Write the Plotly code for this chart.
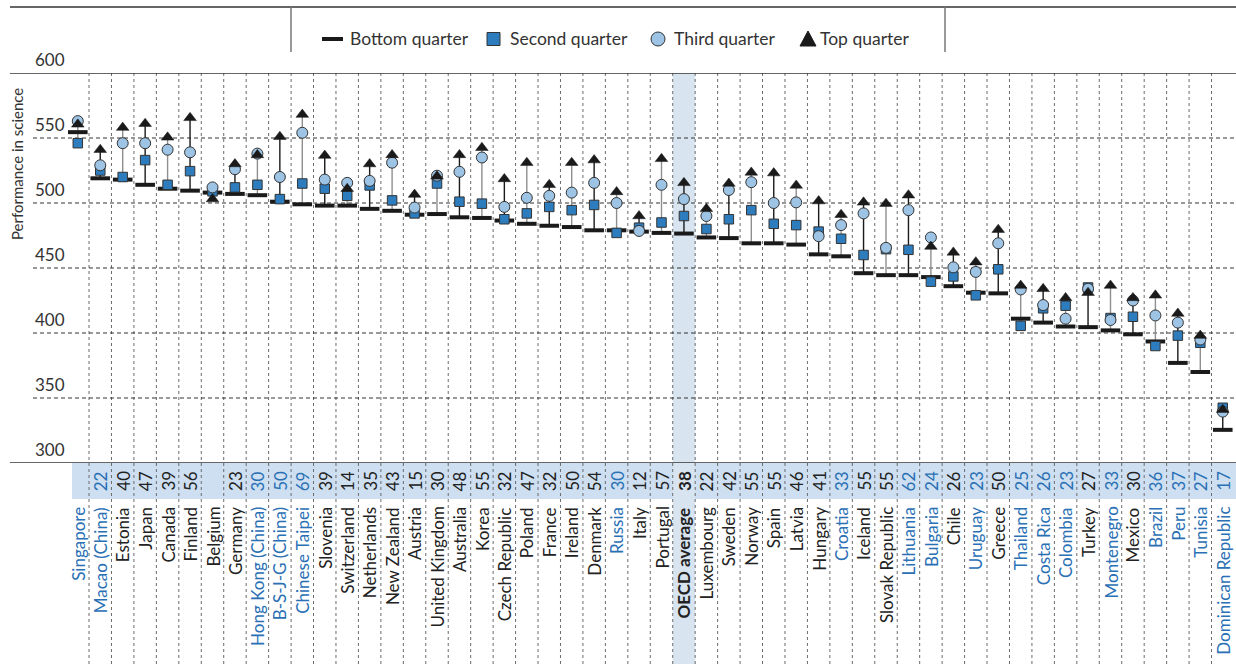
import plotly.graph_objects as go

# ---------------- data ----------------
countries = ["Singapore", "Macao (China)", "Estonia", "Japan", "Canada", "Finland", "Belgium",
             "Germany", "Hong Kong (China)", "B-S-J-G (China)", "Chinese Taipei", "Slovenia",
             "Switzerland", "Netherlands", "New Zealand", "Austria", "United Kingdom", "Australia",
             "Korea", "Czech Republic", "Poland", "France", "Ireland", "Denmark", "Russia", "Italy",
             "Portugal", "OECD average", "Luxembourg", "Sweden", "Norway", "Spain", "Latvia",
             "Hungary", "Croatia", "Iceland", "Slovak Republic", "Lithuania", "Bulgaria", "Chile",
             "Uruguay", "Greece", "Thailand", "Costa Rica", "Colombia", "Turkey", "Montenegro",
             "Mexico", "Brazil", "Peru", "Tunisia", "Dominican Republic"]

bottom_q = [554.5, 519, 518, 514, 511, 509.5, 508, 507, 506, 501, 499, 498, 498, 495.5, 494, 491,
            491.5, 489, 488.5, 486.5, 484, 482.5, 481.5, 479, 479, 478, 477, 476.5, 473.5, 473, 469,
            469, 468, 460.5, 459, 446, 444.5, 444.5, 443, 436, 431, 430.5, 411, 408, 405, 404.5,
            402, 399, 393.5, 377, 370, 325.5]
second_q = [546, 525, 520, 533, 514, 524.5, 509, 512, 514, 503, 515, 511, 505.5, 513.5, 502, 492,
            515, 501, 499.5, 487.5, 492, 497, 494.5, 498.5, 477, 481, 485, 490, 480, 487.5, 494.5,
            484, 483, 478, 472.5, 460, 464.5, 464, 439.5, 443.5, 429, 449, 405.5, 419, 421, 435,
            411.5, 412.5, 390, 398, 392.5, 342.5]
third_q = [563, 529, 546, 546, 541, 539, 512, 526, 538, 520, 554, 518, 515.5, 517, 531, 496.5,
           521, 524, 535, 497, 504, 505.5, 508, 515.5, 500, 478.5, 514, 503, 490, 510, 516, 500,
           500.5, 474.5, 483, 492, 465.5, 494.5, 473.5, 450.5, 447, 469, 433.5, 421.5, 411, 434,
           410, 425, 413.5, 408, 395, 339.5]
top_q = [560.5, 541, 558, 561, 550.5, 565.5, 503, 530, 537, 551, 568, 536.5, 511, 530, 537, 506.5,
         520.5, 537, 542.5, 518.5, 531, 514, 531, 533, 508.5, 490, 534, 515.5, 495.5, 515, 523.5,
         523, 513.5, 501.5, 491, 500.5, 499.5, 506, 466.5, 462, 454.5, 479.5, 436.5, 434, 427,
         431, 436.5, 427, 429, 415, 398, 341]
gap_labels = ["", "22", "40", "47", "39", "56", "", "23", "30", "50", "69", "39", "14", "35", "43",
              "15", "30", "48", "55", "32", "47", "32", "50", "54", "30", "12", "57", "38", "22",
              "42", "55", "55", "46", "41", "33", "55", "55", "62", "24", "26", "23", "50", "25",
              "26", "23", "27", "33", "30", "36", "37", "27", "17"]
partner = [1, 1, 0, 0, 0, 0, 0, 0, 1, 1, 1, 0, 0, 0, 0, 0, 0, 0, 0, 0, 0, 0, 0, 0, 1, 0, 0, 0, 0,
           0, 0, 0, 0, 0, 1, 0, 0, 1, 1, 0, 1, 0, 1, 1, 1, 0, 1, 0, 1, 1, 1, 1]
y_ticks = [300, 350, 400, 450, 500, 550, 600]
y_title = "Performance in science"
legend_names = ["Bottom quarter", "Second quarter", "Third quarter", "Top quarter"]
highlight = "OECD average"

# ---------------- style ----------------
W, H = 1236, 664
FONT = "Lato, 'Open Sans', sans-serif"
BLUE_TXT = "#2a70b5"
SQ_FILL = "#2d7cbd"
CI_FILL = "#9dc4e5"
DARK = "#1a1a1a"
GREY_LINE = "#8f8f8f"


def px(x):
    return x / W


def py(y):
    return 1 - y / H


xs = list(range(len(countries)))
hi = countries.index(highlight)

fig = go.Figure()

# range lines
for color, parity in [(GREY_LINE, 0), (DARK, 1)]:
    lx, ly = [], []
    for i in xs:
        if i % 2 == parity:
            vals = [bottom_q[i], second_q[i], third_q[i], top_q[i]]
            lx += [i, i, None]
            ly += [min(vals), max(vals), None]
    fig.add_trace(go.Scatter(x=lx, y=ly, mode="lines", line=dict(color=color, width=1.4),
                             hoverinfo="skip", showlegend=False))

fig.add_trace(go.Scatter(x=xs, y=bottom_q, mode="markers", name=legend_names[0], showlegend=False,
                         marker=dict(symbol="line-ew", size=14, line=dict(color=DARK, width=4))))
fig.add_trace(go.Scatter(x=xs, y=second_q, mode="markers", name=legend_names[1], showlegend=False,
                         marker=dict(symbol="square", size=9.5, color=SQ_FILL,
                                     line=dict(color="#333333", width=1))))
fig.add_trace(go.Scatter(x=xs, y=third_q, mode="markers", name=legend_names[2], showlegend=False,
                         marker=dict(symbol="circle", size=11, color=CI_FILL,
                                     line=dict(color="#333333", width=1))))
fig.add_trace(go.Scatter(x=xs, y=top_q, mode="markers", name=legend_names[3], showlegend=False,
                         marker=dict(symbol="triangle-up", size=11, color=DARK,
                                     line=dict(color=DARK, width=0.5))))

shapes = []
annotations = []

# OECD average highlight column and blue band
shapes.append(dict(type="rect", xref="paper", yref="paper", x0=px(72), x1=1,
                   y0=py(499), y1=py(463), fillcolor="#cddff0", line=dict(width=0), layer="below"))
shapes.append(dict(type="rect", xref="x", yref="paper", x0=hi - 0.5, x1=hi + 0.5,
                   y0=0, y1=py(73), fillcolor="#d8e5f1", line=dict(width=0), layer="below"))

# vertical dashed separators
for i in xs[:-1]:
    shapes.append(dict(type="line", xref="x", yref="paper", x0=i + 0.5, x1=i + 0.5,
                       y0=0, y1=py(73), line=dict(color="#6b6b6b", width=1, dash="3px,3px"),
                       layer="below"))

# horizontal gridlines and tick labels
for t in y_ticks:
    if t in (300, 600):
        shapes.append(dict(type="line", xref="paper", yref="y", x0=px(10), x1=1, y0=t, y1=t,
                           line=dict(color="#333333", width=1.5), layer="below"))
    else:
        shapes.append(dict(type="line", xref="paper", yref="y", x0=px(33), x1=1, y0=t, y1=t,
                           line=dict(color="#333333", width=1, dash="4px,3px"), layer="below"))
    annotations.append(dict(xref="paper", yref="y", x=px(33), y=t, xanchor="left",
                            yanchor="bottom", yshift=1, text=str(t), showarrow=False,
                            font=dict(family=FONT, size=17, color="#333333")))

# y-axis title
annotations.append(dict(xref="paper", yref="paper", x=px(17), y=py(164), text=y_title,
                        textangle=-90, showarrow=False, xanchor="center", yanchor="middle",
                        font=dict(family=FONT, size=15, color="#333333")))

# category labels and gap numbers
for i, name in enumerate(countries):
    col = BLUE_TXT if partner[i] else "#222222"
    txt = f"<b>{name}</b>" if name == highlight else name
    annotations.append(dict(xref="x", yref="paper", x=i, y=py(505), text=txt, textangle=-90,
                            showarrow=False, xanchor="center", yanchor="top",
                            font=dict(family=FONT, size=17, color=col)))
    if gap_labels[i]:
        g = f"<b>{gap_labels[i]}</b>" if name == highlight else gap_labels[i]
        annotations.append(dict(xref="x", yref="paper", x=i, y=py(481), text=g, textangle=-90,
                                showarrow=False, xanchor="center", yanchor="middle",
                                font=dict(family=FONT, size=17, color=col)))

# top rule and legend box
shapes.append(dict(type="line", xref="paper", yref="paper", x0=px(10), x1=1, y0=py(7), y1=py(7),
                   line=dict(color="#333333", width=1.5)))
for xv in (291, 945):
    shapes.append(dict(type="line", xref="paper", yref="paper", x0=px(xv), x1=px(xv),
                       y0=py(7), y1=py(52), line=dict(color="#777777", width=1.5)))

LY = 39
# legend symbols
shapes.append(dict(type="line", xref="paper", yref="paper", x0=px(322), x1=px(343),
                   y0=py(LY), y1=py(LY), line=dict(color=DARK, width=4)))
shapes.append(dict(type="rect", xref="paper", yref="paper", x0=px(487), x1=px(500),
                   y0=py(LY + 6.5), y1=py(LY - 6.5), fillcolor=SQ_FILL,
                   line=dict(color="#333333", width=1)))
shapes.append(dict(type="circle", xref="paper", yref="paper", x0=px(651), x1=px(665),
                   y0=py(LY + 7), y1=py(LY - 7), fillcolor=CI_FILL,
                   line=dict(color="#333333", width=1)))
shapes.append(dict(type="path", xref="paper", yref="paper",
                   path=f"M {px(800)},{py(LY + 7)} L {px(816)},{py(LY + 7)} L {px(808)},{py(LY - 8)} Z",
                   fillcolor=DARK, line=dict(color=DARK, width=1)))
for xv, name in zip((348, 508, 672, 818), legend_names):
    annotations.append(dict(xref="paper", yref="paper", x=px(xv), y=py(LY), text=name,
                            xanchor="left", yanchor="middle", showarrow=False,
                            font=dict(family=FONT, size=17.5, color="#333333")))

fig.update_layout(
    width=W, height=H,
    margin=dict(l=0, r=0, t=0, b=0),
    paper_bgcolor="white", plot_bgcolor="rgba(0,0,0,0)",
    xaxis=dict(domain=[px(10), 1], range=[-3.02, 51.59], visible=False, fixedrange=True),
    yaxis=dict(domain=[py(463), py(73)], range=[300, 600], visible=False, fixedrange=True),
    shapes=shapes, annotations=annotations, showlegend=False,
)

fig.write_html("out.html", config={"displayModeBar": False},
               post_script="document.body.style.margin='0';")
